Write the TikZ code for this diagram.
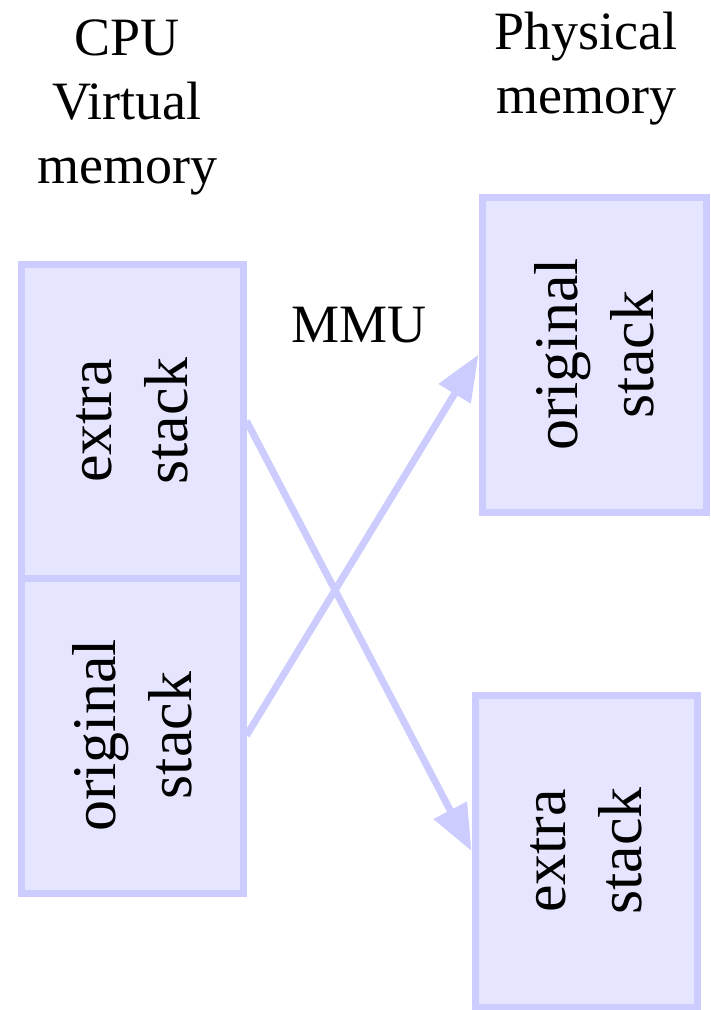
\documentclass[tikz,border=0pt]{standalone}
\usepackage{fontspec}
\setmainfont{Liberation Serif}
\usetikzlibrary{arrows.meta}
\definecolor{boxline}{HTML}{CCCCFF}
\definecolor{boxfill}{HTML}{E5E5FF}
\begin{document}
\begin{tikzpicture}[x=1pt,y=-1pt,
  membox/.style={draw=boxline,fill=boxfill,line width=7pt,minimum width=#1,inner sep=0pt},
  boxtext/.style={rotate=90,align=center,font=\fontsize{62}{76}\selectfont},
  headtext/.style={align=center,font=\fontsize{54}{64}\selectfont},
  maparrow/.style={draw=boxline,line width=7pt,-{Triangle[length=46pt,width=36pt]}}]
\useasboundingbox (0,0) rectangle (710,1010);
% left boxes
\node[membox=222pt,minimum height=314pt] (lt) at (132,421) {};
\node[membox=222pt,minimum height=315pt] (lb) at (132,735.5) {};
% right boxes
\node[membox=224pt,minimum height=315pt] (rt) at (594,354.5) {};
\node[membox=222pt,minimum height=312pt] (rb) at (586,851) {};
% labels
\node[boxtext] (ltt) at (lt.center) {extra\\stack};
\node[boxtext] (lbt) at (lb.center) {original\\stack};
\node[boxtext] (rtt) at (rt.center) {original\\stack};
\node[boxtext] (rbt) at (rb.center) {extra\\stack};
\node[headtext] (cpu) at (127,107) {CPU\\Virtual\\memory};
\node[headtext] (phys) at (586,69) {Physical\\memory};
\node[headtext] (mmu) at (359,325) {MMU};
% arrows
\draw[maparrow] (lt.east) -- (rb.west);
\draw[maparrow] (lb.east) -- (rt.west);
\end{tikzpicture}
\end{document}
